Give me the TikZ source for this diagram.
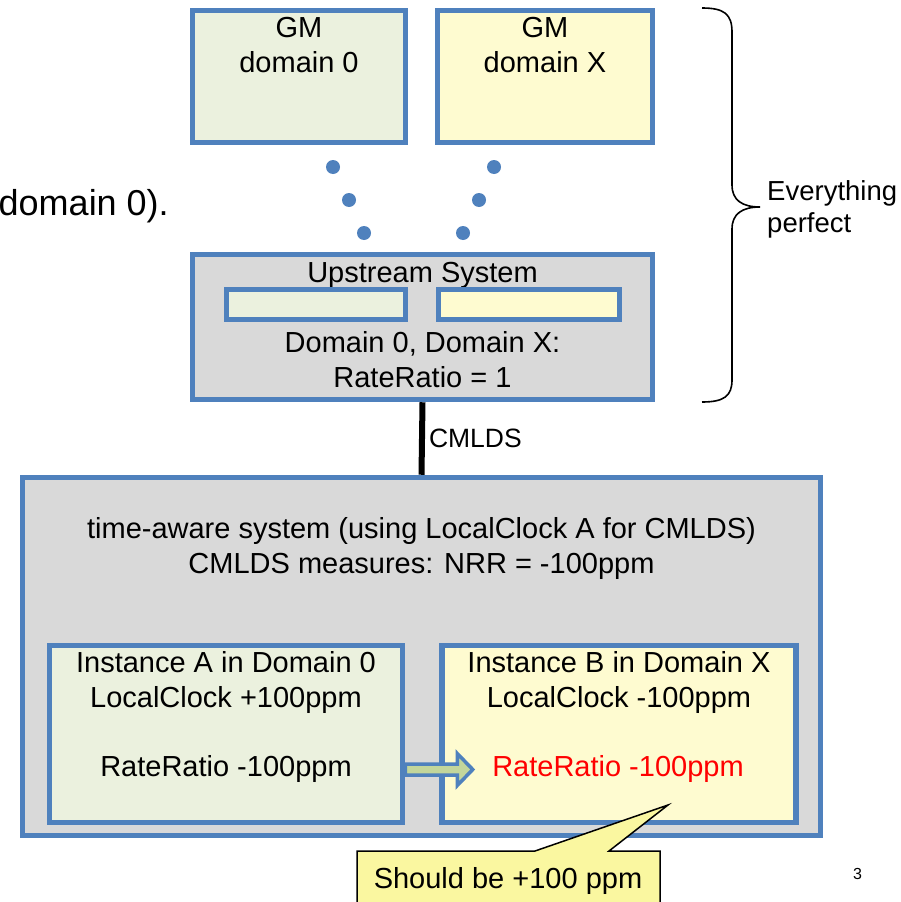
\documentclass[tikz,border=0pt]{standalone}
\usepackage{fontspec}
\setmainfont{Liberation Sans}
\definecolor{boxblue}{HTML}{4F81BD}
\definecolor{paleGreen}{HTML}{EBF1DE}
\definecolor{paleYellow}{HTML}{FEFBD0}
\definecolor{boxGray}{HTML}{D9D9D9}
\definecolor{shaftGreen}{HTML}{C3D69B}
\definecolor{noteYellow}{HTML}{FAF7A0}
\newcommand{\bigtxt}{\fontsize{29}{35}\selectfont}
\begin{document}
\begin{tikzpicture}[x=1pt, y=-1pt,
    box/.style={draw=boxblue, line width=5.5pt, inner sep=0pt},
    txt/.style={inner sep=0pt, anchor=base, align=center, font=\bigtxt}]
        \clip (0,0) rectangle (900,902);
        % Grandmasters
        \node[box, fill=paleGreen, minimum width=213, minimum height=132] (gm0) at (299,76.5) {};
        \node[box, fill=paleYellow, minimum width=215, minimum height=132] (gmx) at (545,76.5) {};
        \node[txt] (gm0txt) at (299,72) {GM\\domain 0};
        \node[txt] (gmxtxt) at (545,72) {GM\\domain X};
        
        % Dots between GMs and upstream system
        \foreach \x/\y in {333/167, 349/200, 364/233, 494/167, 479/200, 463/233}
            \fill[boxblue] (\x,\y) circle (7);
        
        % Cut-off slide text
        \node[inner sep=0pt, anchor=base east, font=\fontsize{36}{42}\selectfont] (slidetxt) at (169,215) {domain 0).};
        
        % Upstream system
        \node[box, fill=boxGray, minimum width=460, minimum height=145] (up) at (422.5,327) {};
        \node[txt] (uptxt) at (422.5,282) {Upstream System};
        \node[box, fill=paleGreen, minimum width=179, minimum height=30] (up0) at (316,304.5) {};
        \node[box, fill=paleYellow, minimum width=181, minimum height=30] (upx) at (529,304.5) {};
        \node[txt] (uprr) at (422.5,387) {Domain 0, Domain X:\\RateRatio = 1};
        
        % Brace
        \draw[line width=1.6pt] (702,8) .. controls (724,8) and (732,14) .. (732,32) -- (732,185)
            .. controls (732,200) and (742,207) .. (760,207)
            .. controls (742,207) and (732,214) .. (732,229) -- (732,380)
            .. controls (732,396) and (724,402) .. (702,402);
        \node[inner sep=0pt, anchor=base west, align=left, font=\fontsize{27.5}{32}\selectfont] (perfect) at (767,232) {Everything\\perfect};
        
        % Time-aware system
        \node[box, fill=boxGray, minimum width=798, minimum height=358] (tas) at (421.5,656.5) {};
        \node[txt] (tastxt) at (421.5,573) {time-aware system (using LocalClock A for CMLDS)\\CMLDS measures: NRR = -100ppm};
        \draw[line width=6pt] (up.south) -- (tas.north) node[midway, right=4pt, inner sep=0pt, font=\fontsize{26.5}{30}\selectfont] (cmlds) {CMLDS};
        
        % Instances
        \node[box, fill=paleGreen, minimum width=353, minimum height=177] (instA) at (226,734) {};
        \node[box, fill=paleYellow, minimum width=354, minimum height=177] (instB) at (619,734) {};
        \node[txt] (instAtxt) at (226,707) {Instance A in Domain 0\\LocalClock +100ppm};
        \node[txt] (instArr) at (226,776) {RateRatio -100ppm};
        \node[txt] (instBtxt) at (619,707) {Instance B in Domain X\\LocalClock -100ppm};
        \node[txt, text=red] (instBrr) at (618,776) {RateRatio -100ppm};
        
        % Block arrow A -> B
        \coordinate (arrtail) at (instA.east |- 0,769.5);
        \draw[draw=boxblue, fill=shaftGreen, line width=3.5pt]
            (arrtail) ++(0,-5.5) -- ++(52,0) -- ++(0,-10.5) -- ++(15.5,16) -- ++(-15.5,16)
            -- ++(0,-10.5) -- ++(-52,0) -- cycle;
        
        % Callout
        \draw[fill=noteYellow, line width=1.5pt] (357,912) -- (357,851) -- (535,851) -- (668,805)
            -- (609,851) -- (660,851) -- (660,912);
        \node[txt] (note) at (508,888) {Should be +100 ppm};
        
        % Page number
        \node[inner sep=0pt, anchor=base, font=\fontsize{16}{18}\selectfont] (pagenum) at (857.5,879) {3};
    \end{tikzpicture}
\end{document}
